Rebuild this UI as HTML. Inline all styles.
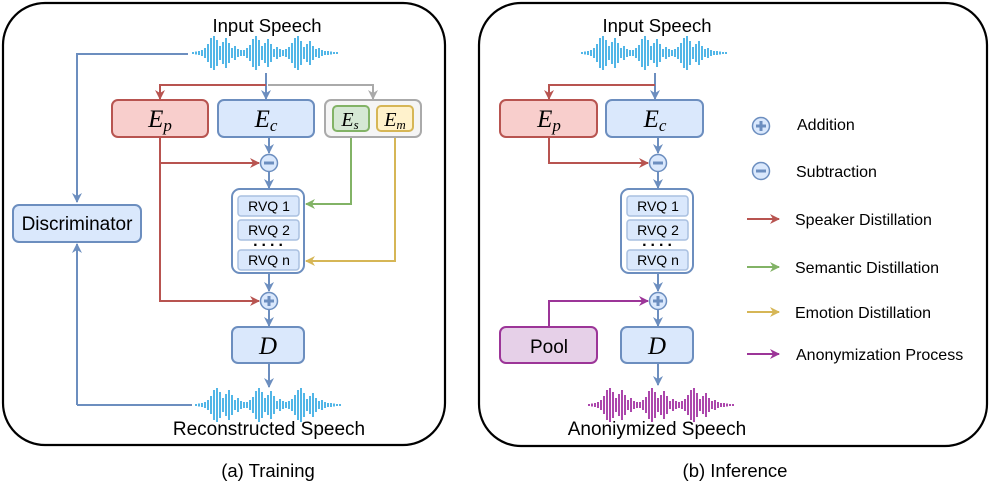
<!DOCTYPE html>
<html><head><meta charset="utf-8"><style>
html,body{margin:0;padding:0;background:#fff;}
svg{display:block;font-family:"Liberation Sans",sans-serif;}
.m{font-family:"Liberation Serif",serif;font-style:italic;}
</style></head><body>
<svg width="992" height="485" viewBox="0 0 992 485" xmlns="http://www.w3.org/2000/svg">
<defs>
<path id="wv" d="M0 -1V1M3 -1.5V1.5M6 -2V2M9 -3V3M12 -5V5M15 -9V9M18 -15V15M21 -17V17M24 -13V13M27 -7V7M30 -11V11M33 -15V15M36 -10V10M39 -5V5M42 -7V7M45 -4V4M48 -3V3M51 -3V3M54 -5V5M57 -8V8M60 -14V14M63 -17V17M66 -13V13M69 -7V7M72 -10V10M75 -14V14M78 -9V9M81 -4V4M84 -6V6M87 -4V4M90 -3V3M93 -4V4M96 -6V6M99 -10V10M102 -15V15M105 -17V17M108 -12V12M111 -6V6M114 -9V9M117 -12V12M120 -7V7M123 -4V4M126 -5V5M129 -3V3M132 -2V2M135 -2V2M138 -1.5V1.5M141 -1V1M144 -1V1" stroke-width="1.9" fill="none"/>
<marker id="ab" viewBox="0 0 10 10" refX="9" refY="5" markerWidth="10" markerHeight="10" markerUnits="userSpaceOnUse" orient="auto"><path d="M0 0L10 5L0 10L3 5Z" fill="#6c8ebf"/></marker>
<marker id="ar" viewBox="0 0 10 10" refX="9" refY="5" markerWidth="10" markerHeight="10" markerUnits="userSpaceOnUse" orient="auto"><path d="M0 0L10 5L0 10L3 5Z" fill="#b85450"/></marker>
<marker id="ag" viewBox="0 0 10 10" refX="9" refY="5" markerWidth="10" markerHeight="10" markerUnits="userSpaceOnUse" orient="auto"><path d="M0 0L10 5L0 10L3 5Z" fill="#82b366"/></marker>
<marker id="ay" viewBox="0 0 10 10" refX="9" refY="5" markerWidth="10" markerHeight="10" markerUnits="userSpaceOnUse" orient="auto"><path d="M0 0L10 5L0 10L3 5Z" fill="#d6b656"/></marker>
<marker id="ak" viewBox="0 0 10 10" refX="9" refY="5" markerWidth="10" markerHeight="10" markerUnits="userSpaceOnUse" orient="auto"><path d="M0 0L10 5L0 10L3 5Z" fill="#aaaaaa"/></marker>
<marker id="ap" viewBox="0 0 10 10" refX="9" refY="5" markerWidth="10" markerHeight="10" markerUnits="userSpaceOnUse" orient="auto"><path d="M0 0L10 5L0 10L3 5Z" fill="#9c3598"/></marker>
<g id="plus"><circle r="8.5" fill="#dae8fc" stroke="#6c8ebf" stroke-width="1.5"/><path d="M-5 0H5M0 -5V5" stroke="#6c8ebf" stroke-width="3"/></g>
<g id="minus"><circle r="8.5" fill="#dae8fc" stroke="#6c8ebf" stroke-width="1.5"/><path d="M-5 0H5" stroke="#6c8ebf" stroke-width="3"/></g>
</defs>

<rect x="3" y="3" width="442" height="442" rx="42" fill="none" stroke="#000" stroke-width="2.2"/>
<rect x="479" y="3" width="508" height="443" rx="42" fill="none" stroke="#000" stroke-width="2.2"/>

<!-- ===== LEFT ===== -->
<text x="267" y="32" font-size="18.5" text-anchor="middle">Input Speech</text>
<use href="#wv" x="193" y="53" stroke="#4ab3e6"/>
<g fill="none" stroke-width="2">
<path d="M188 54H77V202" stroke="#6c8ebf" marker-end="url(#ab)"/>
<path d="M77 405V244" stroke="#6c8ebf" marker-end="url(#ab)"/>
<path d="M77 405H192" stroke="#6c8ebf"/>
<path d="M266 73V99" stroke="#6c8ebf" marker-end="url(#ab)"/>
<path d="M266 85H160V99" stroke="#b85450" marker-end="url(#ar)"/>
<path d="M268 85H373V99" stroke="#aaaaaa" marker-end="url(#ak)"/>
<path d="M269 137V153" stroke="#6c8ebf" marker-end="url(#ab)"/>
<path d="M160 137V301H259" stroke="#b85450" marker-end="url(#ar)"/>
<path d="M160 163H259" stroke="#b85450" marker-end="url(#ar)"/>
<path d="M269 172V188" stroke="#6c8ebf" marker-end="url(#ab)"/>
<path d="M351 131V204H306" stroke="#82b366" marker-end="url(#ag)"/>
<path d="M395 131V261H306" stroke="#d6b656" marker-end="url(#ay)"/>
<path d="M269 273V291" stroke="#6c8ebf" marker-end="url(#ab)"/>
<path d="M269 310V326" stroke="#6c8ebf" marker-end="url(#ab)"/>
<path d="M269 363V387" stroke="#6c8ebf" marker-end="url(#ab)"/>
</g>
<rect x="13" y="205" width="128" height="37" rx="6" fill="#dae8fc" stroke="#6c8ebf" stroke-width="2"/>
<text x="77" y="230" font-size="19" text-anchor="middle">Discriminator</text>
<rect x="112" y="100" width="96" height="37" rx="6" fill="#f8cecc" stroke="#b85450" stroke-width="2"/>
<text x="160" y="127" font-size="25" class="m" text-anchor="middle">E<tspan font-size="17" dy="4">p</tspan></text>
<rect x="218" y="100" width="96" height="37" rx="6" fill="#dae8fc" stroke="#6c8ebf" stroke-width="2"/>
<text x="266" y="127" font-size="25" class="m" text-anchor="middle">E<tspan font-size="17" dy="4">c</tspan></text>
<rect x="325" y="100" width="96" height="37" rx="6" fill="#f5f5f5" stroke="#aaaaaa" stroke-width="2"/>
<rect x="333" y="106" width="36" height="25" rx="4" fill="#d5e8d4" stroke="#82b366" stroke-width="2"/>
<text x="350" y="126" font-size="20" class="m" text-anchor="middle">E<tspan font-size="13" dy="3">s</tspan></text>
<rect x="377" y="106" width="36" height="25" rx="4" fill="#fff2cc" stroke="#d6b656" stroke-width="2"/>
<text x="395" y="126" font-size="20" class="m" text-anchor="middle">E<tspan font-size="13" dy="3">m</tspan></text>
<use href="#minus" x="269" y="163"/>
<use href="#plus" x="269" y="301"/>
<g>
<rect x="232" y="189" width="72" height="84" rx="8" fill="#fff" stroke="#6c8ebf" stroke-width="2"/>
<rect x="238" y="196" width="61" height="20" rx="3" fill="#dae8fc" stroke="#a9c0e0" stroke-width="1.5"/>
<rect x="238" y="220" width="61" height="20" rx="3" fill="#dae8fc" stroke="#a9c0e0" stroke-width="1.5"/>
<rect x="238" y="250" width="61" height="20" rx="3" fill="#dae8fc" stroke="#a9c0e0" stroke-width="1.5"/>
<text x="269" y="211" font-size="14" text-anchor="middle">RVQ 1</text>
<text x="269" y="235" font-size="14" text-anchor="middle">RVQ 2</text>
<text x="269" y="265" font-size="14" text-anchor="middle">RVQ n</text>
<text x="270" y="246" font-size="16" font-weight="bold" text-anchor="middle" letter-spacing="4">....</text>
</g>
<rect x="232" y="327" width="72" height="36" rx="6" fill="#dae8fc" stroke="#6c8ebf" stroke-width="2"/>
<text x="268" y="354" font-size="25" class="m" text-anchor="middle">D</text>
<use href="#wv" x="196" y="405" stroke="#4ab3e6"/>
<text x="269" y="435" font-size="19" text-anchor="middle">Reconstructed Speech</text>
<text x="268" y="477" font-size="18.5" text-anchor="middle">(a) Training</text>

<!-- ===== RIGHT ===== -->
<text x="657" y="32" font-size="18.5" text-anchor="middle">Input Speech</text>
<use href="#wv" x="582" y="53" stroke="#4ab3e6"/>
<g fill="none" stroke-width="2">
<path d="M655 73V99" stroke="#6c8ebf" marker-end="url(#ab)"/>
<path d="M655 85H549V99" stroke="#b85450" marker-end="url(#ar)"/>
<path d="M658 137V153" stroke="#6c8ebf" marker-end="url(#ab)"/>
<path d="M549 137V163H648" stroke="#b85450" marker-end="url(#ar)"/>
<path d="M658 172V188" stroke="#6c8ebf" marker-end="url(#ab)"/>
<path d="M658 273V291" stroke="#6c8ebf" marker-end="url(#ab)"/>
<path d="M549 327V301H648" stroke="#9c3598" marker-end="url(#ap)"/>
<path d="M658 310V326" stroke="#6c8ebf" marker-end="url(#ab)"/>
<path d="M658 363V385" stroke="#6c8ebf" marker-end="url(#ab)"/>
<path d="M747 219H779" stroke="#b85450" marker-end="url(#ar)"/>
<path d="M747 267H779" stroke="#82b366" marker-end="url(#ag)"/>
<path d="M747 312H779" stroke="#d6b656" marker-end="url(#ay)"/>
<path d="M747 354H779" stroke="#9c3598" marker-end="url(#ap)"/>
</g>
<rect x="500" y="100" width="97" height="37" rx="6" fill="#f8cecc" stroke="#b85450" stroke-width="2"/>
<text x="549" y="127" font-size="25" class="m" text-anchor="middle">E<tspan font-size="17" dy="4">p</tspan></text>
<rect x="606" y="100" width="97" height="37" rx="6" fill="#dae8fc" stroke="#6c8ebf" stroke-width="2"/>
<text x="655" y="127" font-size="25" class="m" text-anchor="middle">E<tspan font-size="17" dy="4">c</tspan></text>
<use href="#minus" x="658" y="163"/>
<use href="#plus" x="658" y="301"/>
<g>
<rect x="621" y="189" width="72" height="84" rx="8" fill="#fff" stroke="#6c8ebf" stroke-width="2"/>
<rect x="627" y="196" width="61" height="20" rx="3" fill="#dae8fc" stroke="#a9c0e0" stroke-width="1.5"/>
<rect x="627" y="220" width="61" height="20" rx="3" fill="#dae8fc" stroke="#a9c0e0" stroke-width="1.5"/>
<rect x="627" y="250" width="61" height="20" rx="3" fill="#dae8fc" stroke="#a9c0e0" stroke-width="1.5"/>
<text x="658" y="211" font-size="14" text-anchor="middle">RVQ 1</text>
<text x="658" y="235" font-size="14" text-anchor="middle">RVQ 2</text>
<text x="658" y="265" font-size="14" text-anchor="middle">RVQ n</text>
<text x="659" y="246" font-size="16" font-weight="bold" text-anchor="middle" letter-spacing="4">....</text>
</g>
<rect x="500" y="327" width="97" height="36" rx="6" fill="#e6d0e8" stroke="#9c3598" stroke-width="2"/>
<text x="549" y="353" font-size="19" text-anchor="middle">Pool</text>
<rect x="621" y="327" width="72" height="36" rx="6" fill="#dae8fc" stroke="#6c8ebf" stroke-width="2"/>
<text x="657" y="354" font-size="25" class="m" text-anchor="middle">D</text>
<use href="#wv" x="589" y="405" stroke="#a83ea8"/>
<text x="657" y="435" font-size="19" text-anchor="middle">Anoniymized Speech</text>
<text x="735" y="477" font-size="18.5" text-anchor="middle">(b) Inference</text>

<use href="#plus" x="761" y="126"/>
<use href="#minus" x="761" y="171"/>
<g font-size="16">
<text x="797" y="130">Addition</text>
<text x="796" y="177">Subtraction</text>
<text x="795" y="225">Speaker Distillation</text>
<text x="795" y="273">Semantic Distillation</text>
<text x="795" y="318">Emotion Distillation</text>
<text x="796" y="360">Anonymization Process</text>
</g>
</svg>
</body></html>
